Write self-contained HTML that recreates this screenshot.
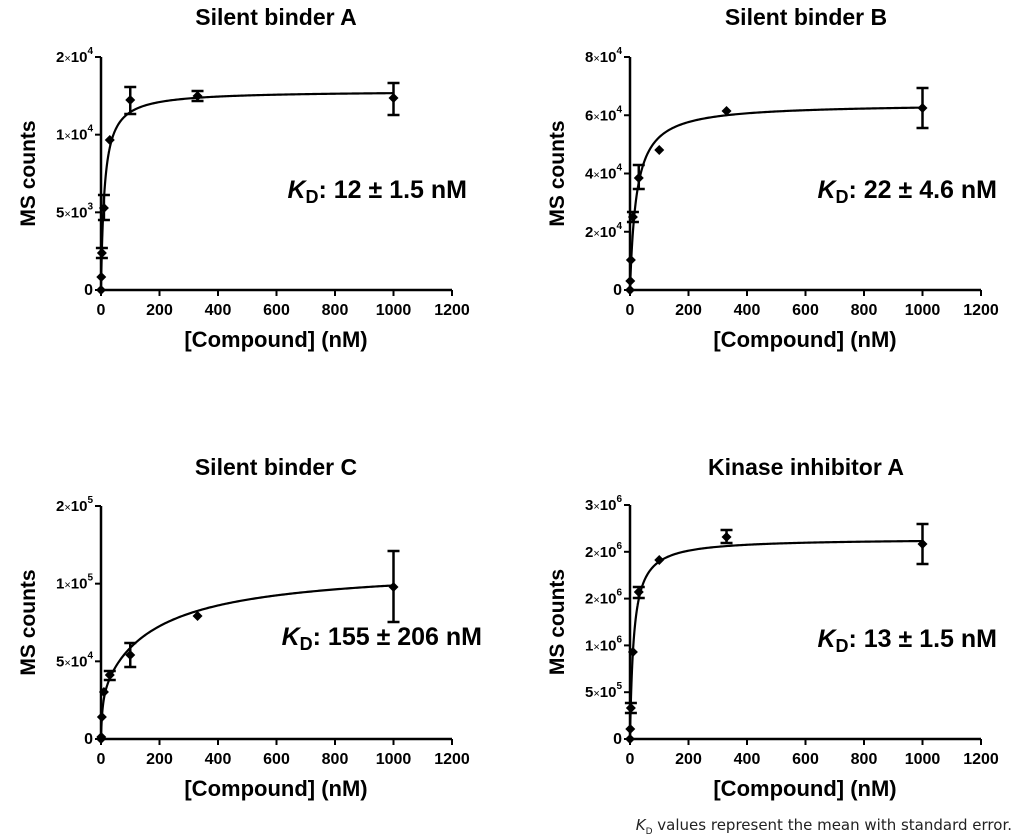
<!DOCTYPE html>
<html><head><meta charset="utf-8"><style>
html,body{margin:0;padding:0;background:#fff;}
svg{display:block;font-family:"Liberation Sans",Arial,sans-serif;}
</style></head><body>
<svg id="s" width="1024" height="838" viewBox="0 0 1024 838" xmlns="http://www.w3.org/2000/svg">
<text x="276" y="25" font-size="23" font-weight="bold" text-anchor="middle">Silent binder A</text>
<text x="806" y="25" font-size="23" font-weight="bold" text-anchor="middle">Silent binder B</text>
<text x="276" y="475" font-size="23" font-weight="bold" text-anchor="middle">Silent binder C</text>
<text x="806" y="475" font-size="23" font-weight="bold" text-anchor="middle">Kinase inhibitor A</text>
<text x="1012" y="830" font-size="15" text-anchor="end" font-family="'DejaVu Sans',sans-serif" fill="#222"><tspan font-style="italic">K</tspan><tspan font-size="9" dy="4">D</tspan><tspan dy="-4"> values represent the mean with standard error.</tspan></text>
</svg>
<script>
var s=document.getElementById('s'),NS='http://www.w3.org/2000/svg';
function el(t,a,txt){var e=document.createElementNS(NS,t);for(var k in a)e.setAttribute(k,a[k]);if(txt!=null)e.textContent=txt;s.appendChild(e);return e;}
function panel(p){
 var x0=p.x0,y0=p.y0,yt=p.yt,x1=x0+351;var H=y0-yt;
 var X=function(v){return x0+v*351/1200;};
 el('path',{d:'M'+x0+' '+(yt)+'V'+y0+'H'+x1,stroke:'#000','stroke-width':2.5,fill:'none'});
 for(var i=0;i<=6;i++){var xx=X(i*200);el('line',{x1:xx,x2:xx,y1:y0,y2:y0+6,stroke:'#000','stroke-width':2});
  el('text',{x:xx,y:y0+25,'font-size':16,'font-weight':'bold','text-anchor':'middle'},String(i*200));}
 var n=p.ticks.length-1;
 p.ticks.forEach(function(t,i){var yy=y0-H*i/n;el('line',{x1:x0-6,x2:x0,y1:yy,y2:yy,stroke:'#000','stroke-width':2});
  var tx=el('text',{x:x0-8,y:yy+5,'font-size':15,'font-weight':'bold','text-anchor':'end'});
  if(t[1]){tx.innerHTML='<tspan font-size="15">'+t[0]+'</tspan><tspan font-size="11" font-weight="normal">×</tspan><tspan font-size="15">10</tspan><tspan font-size="10" dy="-8">'+t[1]+'</tspan>';}
  else{tx.setAttribute('font-size','16');tx.textContent=t[0];}
 });
 el('text',{x:x0+175,y:y0+57,'font-size':22,'font-weight':'bold','text-anchor':'middle'},'[Compound] (nM)');
 el('text',{x:0,y:0,'font-size':21,'font-weight':'bold','text-anchor':'middle',transform:'translate('+(x0-66)+','+(y0-H/2)+') rotate(-90)'},'MS counts');
 var kd=el('text',{x:p.kx,y:p.ky,'font-size':25,'font-weight':'bold','text-anchor':'end'});
 kd.innerHTML='<tspan font-style="italic">K</tspan><tspan font-size="18" dy="5">D</tspan><tspan dy="-5">: '+p.kd+' ± '+p.ke+' nM</tspan>';
 var f=p.f||function(c){return p.B*c/(p.K+c);};
 var d='';for(var c=0;c<=1000;c+=(c<50?0.25:5)){var yv=y0-H*f(c);d+=(d?'L':'M')+X(c).toFixed(2)+' '+yv.toFixed(2);}
 el('path',{d:d,stroke:'#000','stroke-width':2.2,fill:'none'});
 p.pts.forEach(function(q){var xx=X(q[0]),yy=q[1];
  if(q[2]){el('path',{d:'M'+xx+' '+q[2]+'V'+q[3]+'M'+(xx-6)+' '+q[2]+'H'+(xx+6)+'M'+(xx-6)+' '+q[3]+'H'+(xx+6),stroke:'#000','stroke-width':2.5,fill:'none'});}
  el('path',{d:'M'+xx+' '+(yy-5)+'L'+(xx+5)+' '+yy+'L'+xx+' '+(yy+5)+'L'+(xx-5)+' '+yy+'Z',fill:'#000'});
 });
}
panel({x0:101,y0:290,yt:57,ticks:[['0'],['5','3'],['1','4'],['2','4']],B:0.855,K:12,kx:467,ky:198,kd:'12',ke:'1.5',
 pts:[[0,290],[1,277],[3,253,248,258],[10,208,195,220],[30,140],[100,100,87,114],[330,96,91,101],[1000,98,83,115]]});
panel({x0:630,y0:290,yt:57,ticks:[['0'],['2','4'],['4','4'],['6','4'],['8','4']],B:0.80,K:22,kx:997,ky:198,kd:'22',ke:'4.6',
 pts:[[0,290],[1,281],[3,260],[10,217,212,222],[30,178,165,189],[100,150],[330,111],[1000,108,88,128]]});
panel({x0:101,y0:739,yt:506,ticks:[['0'],['5','4'],['1','5'],['2','5']],f:function(c){return 0.22*c/(5+c)+0.523*c/(188+c);},kx:482,ky:645,kd:'155',ke:'206',
 pts:[[0,739],[1,737],[3,717],[10,692],[30,675,671,680],[100,655,643,667],[330,616],[1000,587,551,622]]});
panel({x0:630,y0:739,yt:505,ticks:[['0'],['5','5'],['1','6'],['2','6'],['2','6'],['3','6']],B:0.857,K:13,kx:997,ky:647,kd:'13',ke:'1.5',
 pts:[[0,739],[1,729],[3,708,703,713],[10,652],[30,592,587,598],[100,560],[330,537,530,543],[1000,544,524,564]]});
</script>
</body></html>
